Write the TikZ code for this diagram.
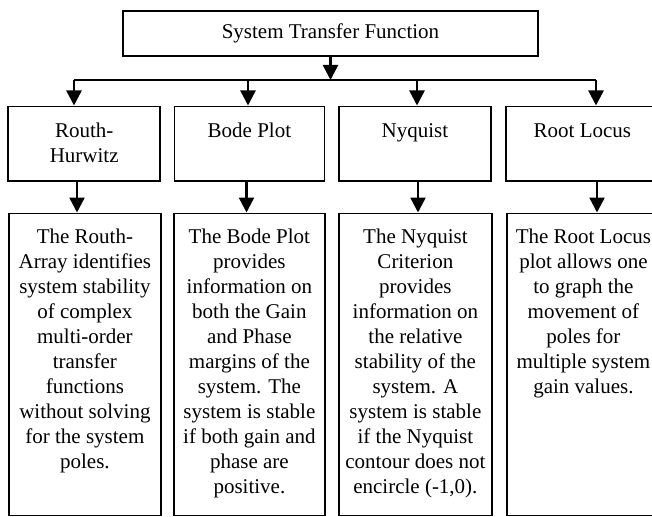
\documentclass[tikz,border=0pt]{standalone}
\usepackage{fontspec}
\setmainfont{Liberation Serif}
\usetikzlibrary{arrows.meta}

\tikzset{
  boxline/.style={draw, line width=1.8pt},
  headbox/.style={boxline, minimum width=415pt, minimum height=45pt, inner sep=0pt},
  methodbox/.style={boxline, anchor=north west, inner sep=0pt},
  flow/.style={line width=2.4pt, -{Triangle[length=15pt,width=15pt]}},
}
% text hung from the top of a box: height, width, strut, lines
\newcommand{\boxtext}[4]{\parbox[c][#1][t]{#2}{\centering\rule{0pt}{#3}#4}}

\begin{document}
\begin{tikzpicture}[x=1pt, y=-1pt, font=\fontsize{21pt}{25pt}\selectfont]
\useasboundingbox (0,0) rectangle (652,516);
\clip (0,0) rectangle (652,516);

% top box
\node[headbox] (stf) at (330.5,33.3) {System Transfer Function};

% methods
\node[methodbox] (routh) at (7.3,105.5) {\boxtext{74.5pt}{152pt}{31pt}{Routh-\\Hurwitz}};
\node[methodbox] (bode) at (173.5,105.5) {\boxtext{74.5pt}{150pt}{31pt}{Bode Plot}};
\node[methodbox] (nyq) at (338,105.5) {\boxtext{74.5pt}{152pt}{31pt}{Nyquist}};
\node[methodbox] (rloc) at (505,105.5) {\boxtext{74.5pt}{153pt}{31pt}{Root Locus}};

% descriptions
\node[methodbox] (routhtxt) at (8,212.5) {\boxtext{302pt}{152pt}{30pt}{The Routh-\\Array identifies\\system stability\\of complex\\multi-order\\transfer\\functions\\without solving\\for the system\\poles.}};
\node[methodbox] (bodetxt) at (173,212.5) {\boxtext{302pt}{151pt}{30pt}{The Bode Plot\\provides\\information on\\both the Gain\\and Phase\\margins of the\\system. The\\system is stable\\if both gain and\\phase are\\positive.}};
\node[methodbox] (nyqtxt) at (338,212.5) {\boxtext{302pt}{153pt}{30pt}{The Nyquist\\Criterion\\provides\\information on\\the relative\\stability of the\\system. A\\system is stable\\if the Nyquist\\contour does not\\encircle (-1,0).}};
\node[methodbox] (rloctxt) at (506,212.5) {\boxtext{302pt}{153pt}{30pt}{The Root Locus\\plot allows one\\to graph the\\movement of\\poles for\\multiple system\\gain values.}};

% bus
\coordinate (bus) at (330.5,80);
\coordinate (b1) at (74,80);
\coordinate (b2) at (248,80);
\coordinate (b3) at (417,80);
\coordinate (b4) at (596,80);

% drops between the two rows
\coordinate (d1) at (77,180);
\coordinate (d2) at (246.5,180);
\coordinate (d3) at (418,180);
\coordinate (d4) at (597,180);

\draw[flow] (stf.south) -- (bus);
\draw[line width=2.4pt] (b1) -- (b4);
\foreach \b/\m in {b1/routh, b2/bode, b3/nyq, b4/rloc}
  \draw[flow] (\b) -- (\b |- \m.north);

\foreach \d/\m in {d1/routh, d2/bode, d3/nyq, d4/rloc}
  \draw[flow] (\d) -- (\d |- \m txt.north);
\end{tikzpicture}
\end{document}
